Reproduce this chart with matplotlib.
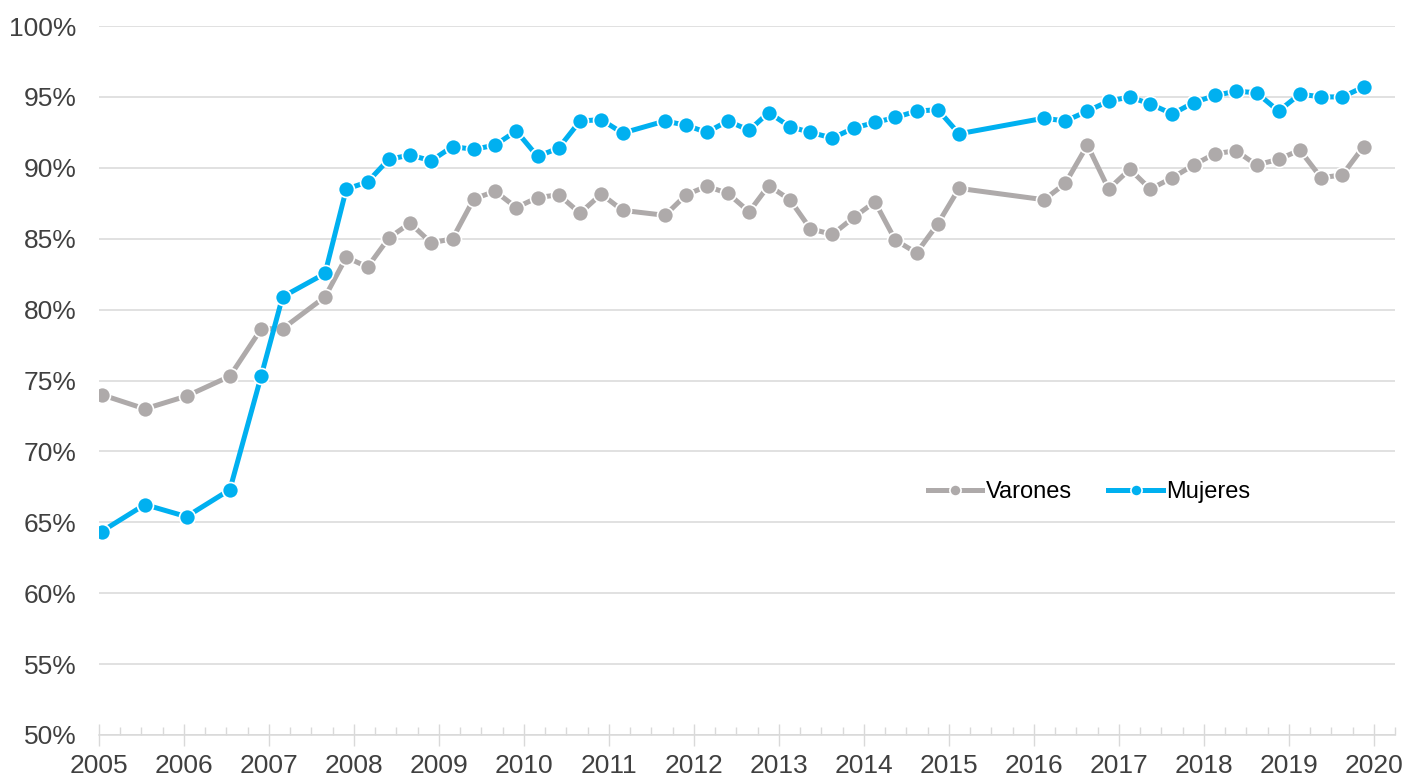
import matplotlib
matplotlib.use("Agg")
import matplotlib.pyplot as plt
from matplotlib.ticker import MultipleLocator, FuncFormatter

# time positions (decimal years)
fechas = [2005.03, 2005.54, 2006.03, 2006.54, 2006.91, 2007.16, 2007.66, 2007.91,
          2008.16, 2008.41, 2008.66, 2008.91, 2009.16, 2009.41, 2009.66, 2009.91,
          2010.16, 2010.41, 2010.66, 2010.91, 2011.16, 2011.66, 2011.91, 2012.15,
          2012.40, 2012.65, 2012.88, 2013.13, 2013.37, 2013.63, 2013.88, 2014.13,
          2014.37, 2014.62, 2014.87, 2015.12, 2016.12, 2016.37, 2016.63, 2016.88,
          2017.13, 2017.37, 2017.63, 2017.88, 2018.13, 2018.38, 2018.62, 2018.88,
          2019.13, 2019.38, 2019.63, 2019.88]

# percentages
varones = [74.0, 73.0, 73.9, 75.3, 78.65, 78.65, 80.9, 83.7,
           83.0, 85.05, 86.1, 84.7, 85.0, 87.8, 88.35, 87.2,
           87.9, 88.1, 86.8, 88.15, 87.0, 86.65, 88.1, 88.7,
           88.2, 86.9, 88.75, 87.75, 85.7, 85.3, 86.5, 87.6,
           84.9, 84.0, 86.05, 88.55, 87.75, 88.9, 91.6, 88.5,
           89.9, 88.5, 89.3, 90.2, 91.0, 91.2, 90.2, 90.6,
           91.25, 89.3, 89.5, 91.5]

mujeres = [64.35, 66.25, 65.4, 67.3, 75.35, 80.9, 82.55, 88.5,
           89.0, 90.6, 90.9, 90.5, 91.5, 91.3, 91.6, 92.6,
           90.8, 91.4, 93.3, 93.4, 92.45, 93.3, 93.0, 92.5,
           93.3, 92.65, 93.9, 92.9, 92.5, 92.1, 92.8, 93.2,
           93.55, 94.0, 94.1, 92.4, 93.5, 93.3, 94.0, 94.7,
           95.0, 94.5, 93.8, 94.6, 95.1, 95.4, 95.3, 94.0,
           95.2, 95.0, 95.0, 95.7]

year_labels = [str(y) for y in range(2005, 2021)]

gris = "#AEAAAA"
azul = "#00B0F0"

plt.rcParams['font.family'] = ['Liberation Sans', 'DejaVu Sans']

fig = plt.figure(figsize=(14.06, 7.79), dpi=100)
ax = fig.add_axes([0.0704, 0.0565, 0.9218, 0.9101])

ax.plot(fechas, varones, color=gris, lw=3.6, marker='o', ms=11.5,
        mfc=gris, mec='white', mew=1.2, label='Varones', zorder=3)
ax.plot(fechas, mujeres, color=azul, lw=3.6, marker='o', ms=11.5,
        mfc=azul, mec='white', mew=1.2, label='Mujeres', zorder=4)

ax.set_xlim(2005, 2020.25)
ax.set_ylim(50, 100)

# horizontal gridlines
ax.yaxis.set_major_locator(MultipleLocator(5))
ax.yaxis.set_major_formatter(FuncFormatter(lambda v, p: f"{v:.0f}%"))
ax.grid(axis='y', color='#D9D9D9', lw=1.1, zorder=0)
ax.set_axisbelow(True)

ax.set_xticks(range(2005, 2021))
ax.set_xticklabels(year_labels)
ax.xaxis.set_minor_locator(MultipleLocator(0.25))

for s in ['left', 'right', 'top']:
    ax.spines[s].set_visible(False)
ax.spines['bottom'].set_color('#D9D9D9')
ax.spines['bottom'].set_linewidth(1.1)

ax.tick_params(axis='y', length=0, pad=16, labelsize=19, labelcolor='#404040')
ax.tick_params(axis='x', which='major', direction='inout', length=16, width=1,
               color='#D9D9D9', labelsize=19, labelcolor='#404040', pad=6)
ax.tick_params(axis='x', which='minor', direction='in', length=6, width=1,
               color='#D9D9D9')

leg = ax.legend(loc='center', bbox_to_anchor=(0.764, 0.343), ncol=2,
                frameon=False, fontsize=17, handlelength=2.3, handletextpad=0.15,
                columnspacing=1.55, markerscale=0.7)

fig.savefig("out.png", dpi=100)
